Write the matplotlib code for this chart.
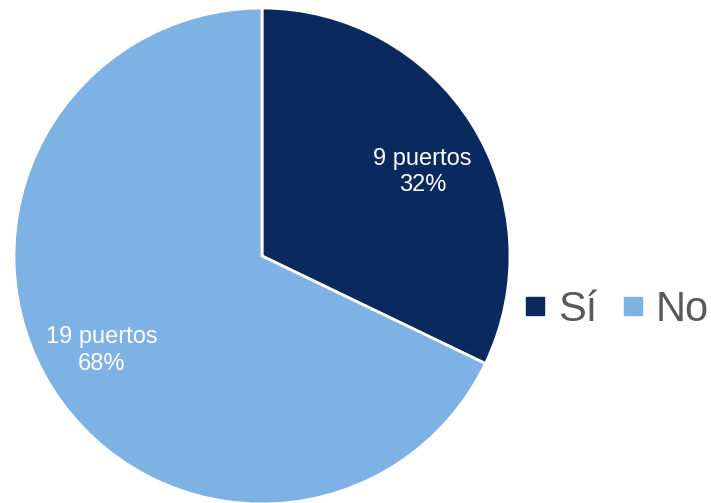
import numpy as np
import matplotlib.pyplot as plt
from matplotlib.lines import Line2D

categorias = ['Sí', 'No']
puertos = [9, 19]
colores = ['#0A2A5F', '#7EB1E4']

plt.rcParams['font.family'] = ['Liberation Sans', 'DejaVu Sans']

W, H = 711, 503
fig = plt.figure(figsize=(W / 100, H / 100), dpi=100)

# pie centre (262, 256) px, radius 248 px
cx, cy, r = 262, 256, 248
ax = fig.add_axes([(cx - r) / W, (H - cy - r) / H, 2 * r / W, 2 * r / H])

total = sum(puertos)


def etiqueta(pct):
    n = int(round(pct * total / 100))
    return f'{n} puertos\n{pct:.0f}%'


wedges, textos, autotextos = ax.pie(
    puertos, colors=colores, startangle=90, counterclock=False,
    autopct=etiqueta, pctdistance=0.74, radius=1,
    wedgeprops=dict(edgecolor='white', linewidth=2),
    textprops=dict(color='white', fontsize=17, linespacing=1.28))

# labels sit a little clockwise of the wedge middle and a bit lower
for w, t in zip(wedges, autotextos):
    ang = np.deg2rad((w.theta1 + w.theta2) / 2 - 3)
    t.set_position((0.74 * np.cos(ang), 0.74 * np.sin(ang) - 0.022))
    t.set_horizontalalignment('center')

ax.set_xlim(-1, 1)
ax.set_ylim(-1, 1)
ax.set_aspect('auto')

handles = [Line2D([], [], marker='s', linestyle='none', markersize=13.5,
                  markerfacecolor=c, markeredgecolor=c) for c in colores]
fig.legend(handles, categorias, loc='center left',
           bbox_to_anchor=(525 / W, 1 - 310 / H), ncol=2, frameon=False,
           fontsize=30, labelcolor='#595959', handlelength=0.5,
           handletextpad=0.3, columnspacing=0.6, borderpad=0,
           borderaxespad=0)

fig.savefig('out.png', dpi=100)
